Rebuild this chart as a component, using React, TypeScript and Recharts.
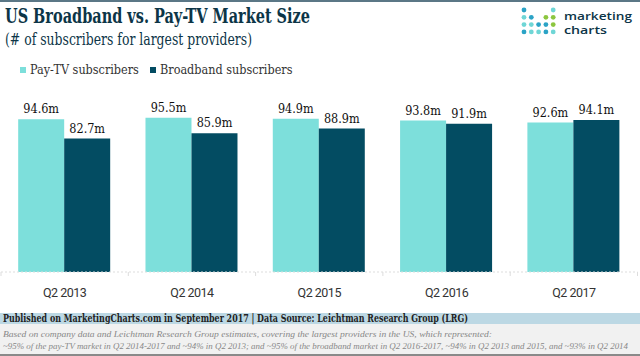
import React from "react"
import { Bar, BarChart, XAxis, YAxis, Legend, LabelList } from "recharts"

const quarters = ["Q2 2013", "Q2 2014", "Q2 2015", "Q2 2016", "Q2 2017"]
const payTv = [94.6, 95.5, 94.9, 93.8, 92.6]
const broadband = [82.7, 85.9, 88.9, 91.9, 94.1]
const seriesNames = ["Pay-TV subscribers", "Broadband subscribers"]

const title = "US Broadband vs. Pay-TV Market Size"
const subtitle = "(# of subscribers for largest providers)"
const sourceLine = "Published on MarketingCharts.com in September 2017 | Data Source: Leichtman Research Group (LRG)"
const noteLines = [
    "Based on company data and Leichtman Research Group estimates, covering the largest providers in the US, which represented:",
    "~95% of the pay-TV market in Q2 2014-2017 and ~94% in Q2 2013; and ~95% of the broadband market in Q2 2016-2017, ~94% in Q2 2013 and 2015, and ~93% in Q2 2014",
]

const data = quarters.map((q, i) => ({ name: q, payTv: payTv[i], broadband: broadband[i] }))

const SLAB = "'DejaVu Serif Condensed', 'DejaVu Serif', serif"
const TEAL = "#7ddfdb"
const NAVY = "#034c62"
const seriesColors = [TEAL, NAVY]

// logo dots: [col, row, colour]
const logoDots: [number, number, string][] = [
    [0, 0, "#2ba3c6"], [4, 0, "#6fd6d6"],
    [0, 1, "#6fd6d6"], [1, 1, "#2ba3c6"], [3, 1, "#8cc63f"], [4, 1, "#8cc63f"],
    [0, 2, "#6fd6d6"], [1, 2, "#6fd6d6"], [2, 2, "#2ba3c6"], [3, 2, "#2ba3c6"], [4, 2, "#8cc63f"],
    [0, 3, "#2ba3c6"], [1, 3, "#6fd6d6"], [2, 3, "#6fd6d6"], [3, 3, "#2ba3c6"], [4, 3, "#6fd6d6"],
]

function QuarterTick(props: any) {
    const { x, y, payload, index, width, visibleTicksCount } = props
    const band = width / visibleTicksCount
    return (
        <g>
            <line x1={x - band / 2} x2={x - band / 2} y1={y} y2={y + 4} stroke="#ddd" />
            {index === visibleTicksCount - 1 && (
                <line x1={x + band / 2} x2={x + band / 2} y1={y} y2={y + 4} stroke="#ddd" />
            )}
            <text x={x} y={y + 25} textAnchor="middle" fontFamily="Roboto, sans-serif" fontSize={12.5}
                letterSpacing={-0.5} fill="#333">
                {payload.value}
            </text>
        </g>
    )
}

function LegendContent() {
    return (
        <div style={{ display: "flex", alignItems: "center", paddingLeft: 20, whiteSpace: "nowrap" }}>
            {seriesNames.map((name, i) => (
                <div key={name} style={{ display: "flex", alignItems: "center", width: 130 }}>
                    <span style={{ display: "inline-block", flexShrink: 0, width: 6, height: 6, background: seriesColors[i], marginRight: 4 }} />
                    <span style={{ fontFamily: SLAB, fontSize: 12.5, color: "#333" }}>{name}</span>
                </div>
            ))}
        </div>
    )
}

export default function App() {
    return (
        <div style={{ position: "relative", width: 640, height: 356, background: "#fff", overflow: "hidden" }}>
            <style>{`body{margin:0}`}</style>
            <svg width={640} height={356} style={{ position: "absolute", top: 0, left: 0 }}>
                <rect x={0} y={0} width={640} height={2} fill="#5b7786" />
                <text x={5} y={23} fontFamily={SLAB} fontWeight="bold" fontSize={20} fill="#0c3547"
                    textLength={305} lengthAdjust="spacingAndGlyphs">{title}</text>
                <text x={5} y={45} fontFamily={SLAB} fontSize={17} fill="#0c3547"
                    textLength={247} lengthAdjust="spacingAndGlyphs">{subtitle}</text>
                {logoDots.map(([c, r, col], i) => (
                    <circle key={i} cx={524 + c * 7.3} cy={10 + r * 7.3} r={2.4} fill={col} />
                ))}
                <text x={564} y={20} fontFamily="'Open Sans', sans-serif" fontWeight={600} fontSize={11.5} fill="#0c3547"
                    textLength={68} lengthAdjust="spacingAndGlyphs">marketing</text>
                <text x={564} y={34} fontFamily="'Open Sans', sans-serif" fontWeight={600} fontSize={11.5} fill="#0c3547"
                    textLength={43} lengthAdjust="spacingAndGlyphs">charts</text>
                <rect x={0} y={313} width={640} height={11} fill="#bcd8e4" />
                <rect x={0} y={324} width={640} height={30} fill="#f1f1f1" />
                <rect x={0} y={354} width={640} height={2} fill="#8a8a8a" />
                <text x={3} y={322} fontFamily={SLAB} fontWeight="bold" fontSize={11} fill="#222"
                    textLength={465} lengthAdjust="spacingAndGlyphs">{sourceLine}</text>
                <text x={3} y={337} fontFamily="'Liberation Serif', serif" fontStyle="italic" fontSize={9} fill="#888"
                    textLength={489} lengthAdjust="spacingAndGlyphs">{noteLines[0]}</text>
                <text x={3} y={348.5} fontFamily="'Liberation Serif', serif" fontStyle="italic" fontSize={8.5} fill="#888"
                    textLength={625} lengthAdjust="spacingAndGlyphs">{noteLines[1]}</text>
            </svg>
            <div style={{ position: "absolute", top: 50, left: 0 }}>
                <BarChart
                    width={640}
                    height={260}
                    data={data}
                    margin={{ top: 60.6, right: 2.5, left: 1, bottom: 0 }}
                    barCategoryGap="13.5%"
                    barGap={0}
                >
                    <XAxis
                        dataKey="name"
                        height={38}
                        tickSize={0}
                        tickMargin={0}
                        tickLine={false}
                        axisLine={{ stroke: "#ddd", strokeDasharray: "2 2" }}
                        tick={<QuarterTick />}
                        interval={0}
                    />
                    <YAxis hide domain={[0, 100]} />
                    <Legend
                        verticalAlign="middle"
                        align="center"
                        layout="horizontal"
                        content={<LegendContent />}
                        wrapperStyle={{ position: "absolute", top: 12, left: 0, width: 640 }}
                    />
                    <Bar dataKey="payTv" name={seriesNames[0]} fill={TEAL} isAnimationActive={false}>
                        <LabelList dataKey="payTv" position="top" offset={6} formatter={(v: any) => `${v}m`}
                            fontFamily={SLAB} fontSize={12.5} fill="#111" />
                    </Bar>
                    <Bar dataKey="broadband" name={seriesNames[1]} fill={NAVY} isAnimationActive={false}>
                        <LabelList dataKey="broadband" position="top" offset={6} formatter={(v: any) => `${v}m`}
                            fontFamily={SLAB} fontSize={12.5} fill="#111" />
                    </Bar>
                </BarChart>
            </div>
        </div>
    )
}
